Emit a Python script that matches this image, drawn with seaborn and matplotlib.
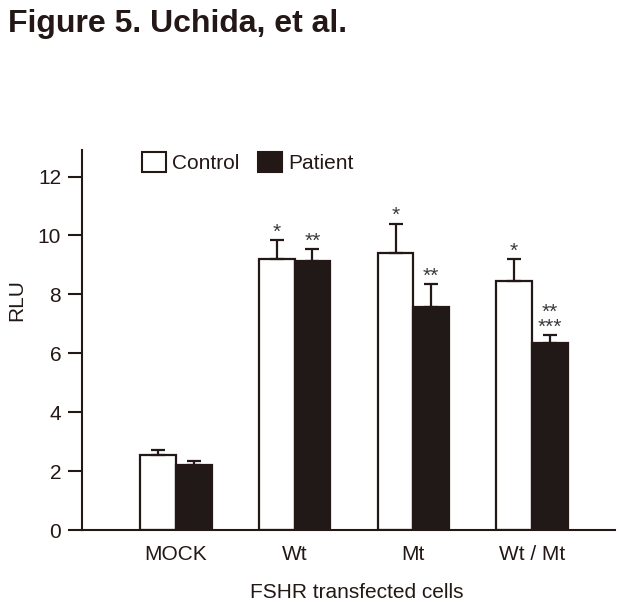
import pandas as pd
import numpy as np
import matplotlib.pyplot as plt
import seaborn as sns
from matplotlib.patches import Patch

cells = ["MOCK", "Wt", "Mt", "Wt / Mt"]
control = [2.55, 9.2, 9.4, 8.47]
patient = [2.2, 9.12, 7.57, 6.35]
control_err = [0.15, 0.65, 1.0, 0.72]
patient_err = [0.15, 0.42, 0.77, 0.27]
control_marks = ["", "*", "*", "*"]
patient_marks = ["", "**", "**", "**\n***"]

ink = "#231815"

sns.set_style("ticks")
plt.rcParams["font.family"] = ["Liberation Sans", "DejaVu Sans"]
plt.rcParams["text.color"] = ink
plt.rcParams["axes.labelcolor"] = ink
plt.rcParams["xtick.color"] = ink
plt.rcParams["ytick.color"] = ink

df = pd.DataFrame({
    "cells": cells * 2,
    "group": ["Control"] * 4 + ["Patient"] * 4,
    "RLU": control + patient,
})

fig = plt.figure(figsize=(6.19, 6.02), dpi=100)
ax = fig.add_axes([0.1325, 0.1196, 0.861, 0.6312])

sns.barplot(data=df, x="cells", y="RLU", hue="group", hue_order=["Control", "Patient"],
            palette={"Control": "white", "Patient": ink}, width=0.6, errorbar=None,
            edgecolor=ink, linewidth=1.6, legend=False, ax=ax)

# one-sided error bars + asterisks
n = len(cells)
bars = ax.patches[:2 * n]
for i, b in enumerate(bars):
    g, k = divmod(i, n)
    vals = control if g == 0 else patient
    errs = control_err if g == 0 else patient_err
    marks = control_marks if g == 0 else patient_marks
    x = b.get_x() + b.get_width() / 2
    top = vals[k] + errs[k]
    ax.errorbar(x, vals[k], yerr=[[0], [errs[k]]], fmt="none", ecolor=ink,
                elinewidth=1.6, capsize=5, capthick=1.6, zorder=1)
    if marks[k]:
        ax.annotate(marks[k], (x, top), xytext=(0, -1.2), textcoords="offset points",
                    ha="center", va="bottom", fontsize=15, color="#3a3a3a",
                    linespacing=0.72)

ax.set_xlim(-0.793, 3.70)
ax.set_ylim(0, 12.9)
ax.set_yticks(range(0, 13, 2))
ax.tick_params(axis="y", length=10, width=1.5, pad=5, labelsize=15)
ax.tick_params(axis="x", length=0, pad=11, labelsize=15)
sns.despine(ax=ax)
for s in ["left", "bottom"]:
    ax.spines[s].set_linewidth(1.5)
    ax.spines[s].set_color(ink)

ax.set_xlabel("FSHR transfected cells", fontsize=15)
ax.set_ylabel("RLU", fontsize=15)
ax.xaxis.set_label_coords(0.516, -0.14)
ax.yaxis.set_label_coords(-0.105, 0.605)

handles = [Patch(facecolor="white", edgecolor=ink, linewidth=1.5),
           Patch(facecolor=ink, edgecolor=ink, linewidth=1.5)]
ax.legend(handles, ["Control", "Patient"], ncol=2, frameon=False, fontsize=15,
          handlelength=1.15, handleheight=1.1, handletextpad=0.3, columnspacing=0.9,
          loc="upper left", bbox_to_anchor=(0.2295, 0.747), bbox_transform=fig.transFigure,
          borderaxespad=0, borderpad=0)

fig.text(0.013, 0.985, "Figure 5. Uchida, et al.", fontsize=23, fontweight="bold",
         ha="left", va="top", color=ink)

fig.savefig("out.png", dpi=100)
